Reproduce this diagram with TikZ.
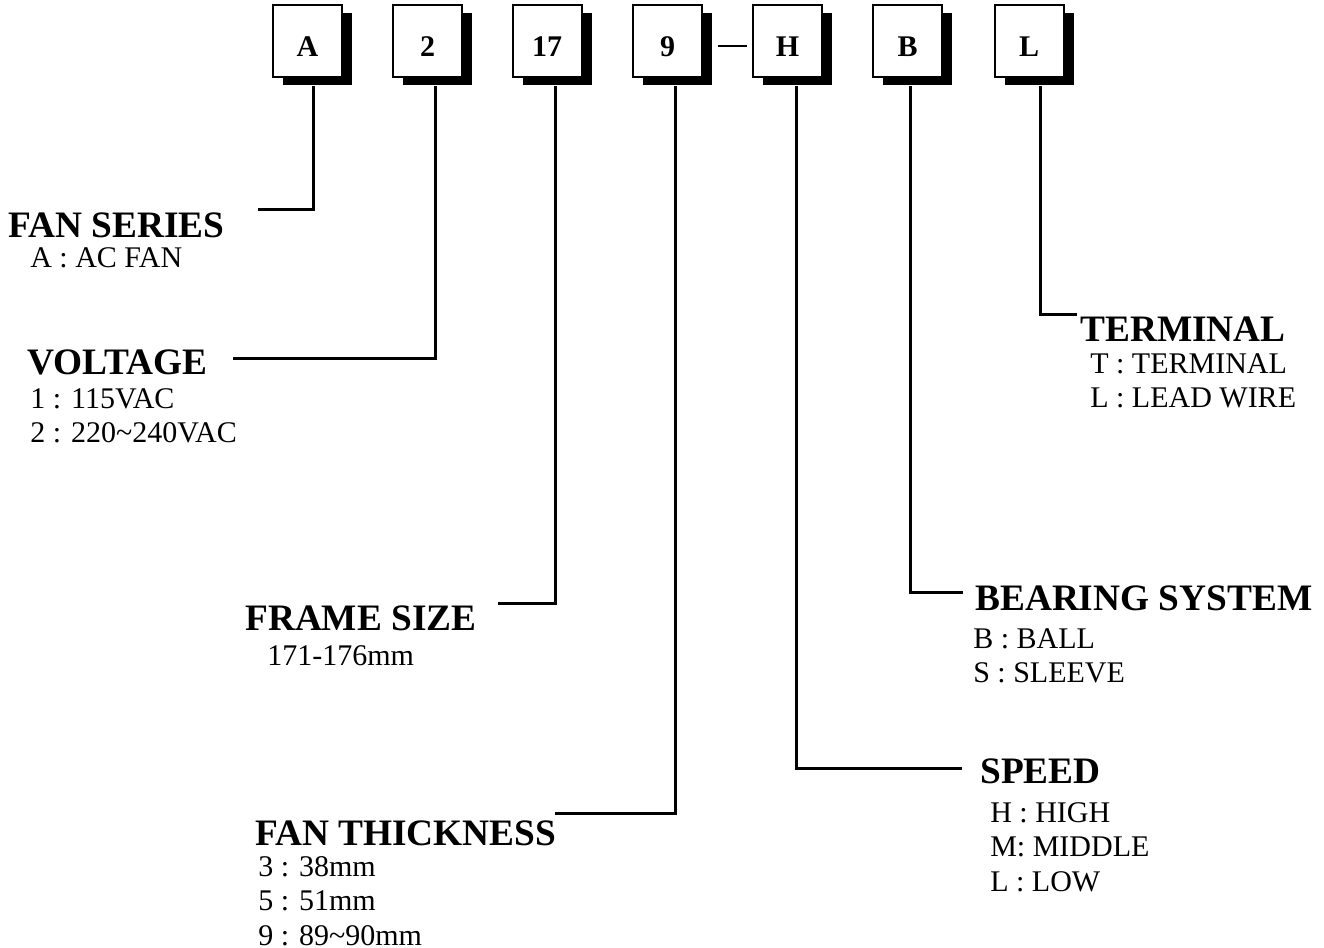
\documentclass[tikz,border=0pt]{standalone}
\usepackage{fontspec}
\setmainfont{Liberation Serif}
\usepackage{tikz}
\usetikzlibrary{shapes,shadows,positioning}
\tikzstyle{codebox} = [rectangle, draw, fill=white, line width=1.5pt, minimum width=51.75pt, minimum height=54pt, inner sep=0pt, text height=23.5pt, text depth=0pt, font=\fontsize{22.5}{27}\selectfont\bfseries, drop shadow={shadow xshift=7.5pt, shadow yshift=-6pt, fill=black, opacity=1}]
\tikzstyle{title} = [anchor=base west, inner sep=0pt, font=\fontsize{28}{34}\selectfont\bfseries]
\tikzstyle{desc} = [anchor=north west, inner sep=0pt, align=left, font=\fontsize{22.5}{26}\selectfont]
\tikzstyle{lead} = [draw, line width=2.25pt]
\tikzstyle{dashline} = [draw, line width=1.5pt]

\begin{document}
\begin{tikzpicture}[x=0.75pt, y=-0.75pt]
			\useasboundingbox (0,0) rectangle (1324,948);

			% code boxes
			\node [codebox] (A) at (307.5, 41) {A};
			\node [codebox] (2) at (427.5, 41) {2};
			\node [codebox] (17) at (547, 41) {17};
			\node [codebox] (9) at (667.5, 41) {9};
			\node [codebox] (H) at (787.5, 41) {H};
			\node [codebox] (B) at (907.5, 41) {B};
			\node [codebox] (L) at (1029, 41) {L};

			% titles
			\node [title] (series) at (8, 238) {FAN SERIES};
			\node [title] (voltage) at (27, 375) {VOLTAGE};
			\node [title] (frame) at (245, 630) {FRAME SIZE};
			\node [title] (thick) at (255, 845) {FAN THICKNESS};
			\node [title] (speed) at (980, 783) {SPEED};
			\node [title] (bearing) at (975, 610) {BEARING SYSTEM};
			\node [title] (terminal) at (1080, 342) {TERMINAL};

			% descriptions
			\node [desc] (seriesdesc) at (30, 247) {A : AC FAN};
			\node [desc] (voltdesc) at (30, 388) {1 : 115VAC\\2 : 220\textasciitilde240VAC};
			\node [desc] (framedesc) at (267, 645) {171-176mm};
			\node [desc] (thickdesc) at (258, 856) {3 : 38mm\\5 : 51mm\\9 : 89\textasciitilde90mm};
			\node [desc] (speeddesc) at (990, 802) {H : HIGH\\M: MIDDLE\\L : LOW};
			\node [desc] (bearingdesc) at (973, 628) {B : BALL\\S : SLEEVE};
			\node [desc] (termdesc) at (1090, 353) {T : TERMINAL\\L : LEAD WIRE};

			% line ends
			\coordinate (seriesend) at (258, 210);
			\coordinate (voltend) at (233, 359);
			\coordinate (frameend) at (498, 603);
			\coordinate (thickend) at (555, 813);
			\coordinate (speedend) at (962, 768);
			\coordinate (bearingend) at (963, 592);
			\coordinate (termend) at (1077, 315);

			\path [lead] ([shift={(5.5,8)}]A.south) |- (seriesend);
			\path [lead] ([shift={(7.5,8)}]2.south) |- (voltend);
			\path [lead] ([shift={(8,8)}]17.south) |- (frameend);
			\path [lead] ([shift={(7.5,8)}]9.south) |- (thickend);
			\path [lead] ([shift={(8.5,8)}]H.south) |- (speedend);
			\path [lead] ([shift={(2.5,8)}]B.south) |- (bearingend);
			\path [lead] ([shift={(11,8)}]L.south) |- (termend);
			\path [dashline] ([shift={(15,5)}]9.east) -- ([shift={(-5,5)}]H.west);
		\end{tikzpicture}
\end{document}
